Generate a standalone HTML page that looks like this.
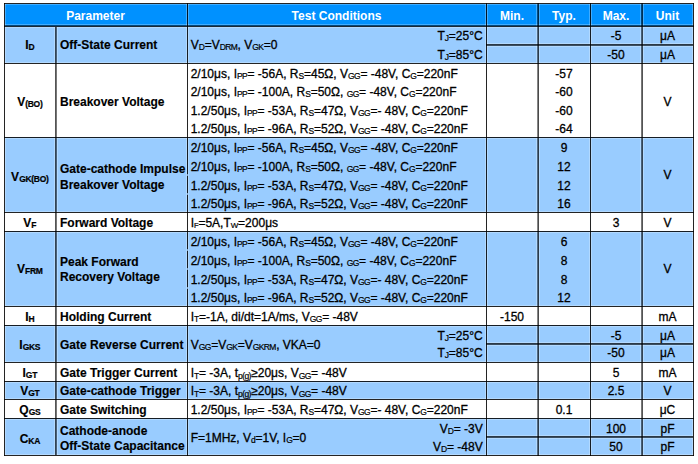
<!DOCTYPE html>
<html><head><meta charset="utf-8"><style>
html,body{margin:0;padding:0;}
body{width:698px;height:464px;background:#fff;position:relative;overflow:hidden;font-family:"Liberation Sans",sans-serif;}
body>div{position:absolute;}
.t{line-height:14px;white-space:nowrap;-webkit-text-stroke:0.3px currentColor;}
sub{vertical-align:baseline;position:relative;top:1px;line-height:0;letter-spacing:-0.6px;padding-right:0.4px;-webkit-text-stroke:0.2px currentColor;}
</style></head><body>
<div style="left:5px;top:4px;width:688px;height:22px;background:#0091ff"></div><div style="left:5px;top:26px;width:688px;height:37px;background:#99ccff"></div><div style="left:5px;top:63px;width:688px;height:74px;background:#fff"></div><div style="left:5px;top:137px;width:688px;height:75px;background:#99ccff"></div><div style="left:5px;top:212px;width:688px;height:19px;background:#fff"></div><div style="left:5px;top:231px;width:688px;height:75px;background:#99ccff"></div><div style="left:5px;top:306px;width:688px;height:19px;background:#fff"></div><div style="left:5px;top:325px;width:688px;height:37px;background:#99ccff"></div><div style="left:5px;top:362px;width:688px;height:19px;background:#fff"></div><div style="left:5px;top:381px;width:688px;height:18px;background:#99ccff"></div><div style="left:5px;top:399px;width:688px;height:19px;background:#fff"></div><div style="left:5px;top:418px;width:688px;height:37px;background:#99ccff"></div><div style="left:5px;top:62px;width:688px;height:1px;background:rgba(255,255,255,0.25)"></div><div style="left:5px;top:64px;width:688px;height:1px;background:rgba(255,255,255,0.25)"></div><div style="left:5px;top:136px;width:688px;height:1px;background:rgba(255,255,255,0.25)"></div><div style="left:5px;top:138px;width:688px;height:1px;background:rgba(255,255,255,0.25)"></div><div style="left:5px;top:211px;width:688px;height:1px;background:rgba(255,255,255,0.25)"></div><div style="left:5px;top:213px;width:688px;height:1px;background:rgba(255,255,255,0.25)"></div><div style="left:5px;top:230px;width:688px;height:1px;background:rgba(255,255,255,0.25)"></div><div style="left:5px;top:232px;width:688px;height:1px;background:rgba(255,255,255,0.25)"></div><div style="left:5px;top:305px;width:688px;height:1px;background:rgba(255,255,255,0.25)"></div><div style="left:5px;top:307px;width:688px;height:1px;background:rgba(255,255,255,0.25)"></div><div style="left:5px;top:324px;width:688px;height:1px;background:rgba(255,255,255,0.25)"></div><div style="left:5px;top:326px;width:688px;height:1px;background:rgba(255,255,255,0.25)"></div><div style="left:5px;top:361px;width:688px;height:1px;background:rgba(255,255,255,0.25)"></div><div style="left:5px;top:363px;width:688px;height:1px;background:rgba(255,255,255,0.25)"></div><div style="left:5px;top:380px;width:688px;height:1px;background:rgba(255,255,255,0.25)"></div><div style="left:5px;top:382px;width:688px;height:1px;background:rgba(255,255,255,0.25)"></div><div style="left:5px;top:398px;width:688px;height:1px;background:rgba(255,255,255,0.25)"></div><div style="left:5px;top:400px;width:688px;height:1px;background:rgba(255,255,255,0.25)"></div><div style="left:5px;top:417px;width:688px;height:1px;background:rgba(255,255,255,0.25)"></div><div style="left:5px;top:419px;width:688px;height:1px;background:rgba(255,255,255,0.25)"></div><div style="left:5px;top:24px;width:688px;height:1px;background:rgba(255,255,255,0.25)"></div><div style="left:5px;top:27px;width:688px;height:1px;background:rgba(255,255,255,0.25)"></div><div style="left:5px;top:454px;width:688px;height:1px;background:rgba(255,255,255,0.25)"></div><div style="left:5px;top:4px;width:688px;height:1px;background:rgba(255,255,255,0.25)"></div><div style="left:487px;top:43px;width:206px;height:1px;background:rgba(255,255,255,0.25)"></div><div style="left:487px;top:46px;width:206px;height:1px;background:rgba(255,255,255,0.25)"></div><div style="left:487px;top:342px;width:206px;height:1px;background:rgba(255,255,255,0.25)"></div><div style="left:487px;top:345px;width:206px;height:1px;background:rgba(255,255,255,0.25)"></div><div style="left:487px;top:435px;width:206px;height:1px;background:rgba(255,255,255,0.25)"></div><div style="left:487px;top:438px;width:206px;height:1px;background:rgba(255,255,255,0.25)"></div><div style="left:186px;top:4px;width:1px;height:451px;background:rgba(255,255,255,0.25)"></div><div style="left:188px;top:4px;width:1px;height:451px;background:rgba(255,255,255,0.25)"></div><div style="left:485px;top:4px;width:1px;height:451px;background:rgba(255,255,255,0.25)"></div><div style="left:487px;top:4px;width:1px;height:451px;background:rgba(255,255,255,0.25)"></div><div style="left:589px;top:4px;width:1px;height:451px;background:rgba(255,255,255,0.25)"></div><div style="left:591px;top:4px;width:1px;height:451px;background:rgba(255,255,255,0.25)"></div><div style="left:54px;top:27px;width:1px;height:428px;background:rgba(255,255,255,0.25)"></div><div style="left:57px;top:27px;width:1px;height:428px;background:rgba(255,255,255,0.25)"></div><div style="left:536px;top:4px;width:1px;height:451px;background:rgba(255,255,255,0.25)"></div><div style="left:539px;top:4px;width:1px;height:451px;background:rgba(255,255,255,0.25)"></div><div style="left:640px;top:4px;width:1px;height:451px;background:rgba(255,255,255,0.25)"></div><div style="left:643px;top:4px;width:1px;height:451px;background:rgba(255,255,255,0.25)"></div><div style="left:5px;top:4px;width:1px;height:451px;background:rgba(255,255,255,0.25)"></div><div style="left:692px;top:4px;width:1px;height:451px;background:rgba(255,255,255,0.25)"></div><div style="left:4px;top:3px;width:690px;height:1px;background:rgba(0,0,0,0.86)"></div><div style="left:4px;top:25px;width:690px;height:1px;background:rgba(0,0,0,0.5)"></div><div style="left:4px;top:26px;width:690px;height:1px;background:rgba(0,0,0,0.8)"></div><div style="left:4px;top:63px;width:690px;height:1px;background:rgba(0,0,0,0.86)"></div><div style="left:4px;top:137px;width:690px;height:1px;background:rgba(0,0,0,0.86)"></div><div style="left:4px;top:212px;width:690px;height:1px;background:rgba(0,0,0,0.86)"></div><div style="left:4px;top:231px;width:690px;height:1px;background:rgba(0,0,0,0.86)"></div><div style="left:4px;top:306px;width:690px;height:1px;background:rgba(0,0,0,0.86)"></div><div style="left:4px;top:325px;width:690px;height:1px;background:rgba(0,0,0,0.86)"></div><div style="left:4px;top:362px;width:690px;height:1px;background:rgba(0,0,0,0.86)"></div><div style="left:4px;top:381px;width:690px;height:1px;background:rgba(0,0,0,0.86)"></div><div style="left:4px;top:399px;width:690px;height:1px;background:rgba(0,0,0,0.86)"></div><div style="left:4px;top:418px;width:690px;height:1px;background:rgba(0,0,0,0.86)"></div><div style="left:4px;top:455px;width:690px;height:1px;background:rgba(0,0,0,0.86)"></div><div style="left:486px;top:44px;width:207px;height:1px;background:rgba(0,0,0,0.72)"></div><div style="left:486px;top:45px;width:207px;height:1px;background:rgba(0,0,0,0.62)"></div><div style="left:486px;top:343px;width:207px;height:1px;background:rgba(0,0,0,0.72)"></div><div style="left:486px;top:344px;width:207px;height:1px;background:rgba(0,0,0,0.62)"></div><div style="left:486px;top:436px;width:207px;height:1px;background:rgba(0,0,0,0.72)"></div><div style="left:486px;top:437px;width:207px;height:1px;background:rgba(0,0,0,0.62)"></div><div style="left:4px;top:3px;width:1px;height:453px;background:rgba(0,0,0,0.86)"></div><div style="left:693px;top:3px;width:1px;height:453px;background:rgba(0,0,0,0.86)"></div><div style="left:187px;top:3px;width:1px;height:453px;background:rgba(0,0,0,0.86)"></div><div style="left:486px;top:3px;width:1px;height:453px;background:rgba(0,0,0,0.86)"></div><div style="left:590px;top:3px;width:1px;height:453px;background:rgba(0,0,0,0.86)"></div><div style="left:55px;top:27px;width:1px;height:428px;background:rgba(0,0,0,0.67)"></div><div style="left:56px;top:27px;width:1px;height:428px;background:rgba(0,0,0,0.53)"></div><div style="left:537px;top:3px;width:1px;height:453px;background:rgba(0,0,0,0.47)"></div><div style="left:538px;top:3px;width:1px;height:453px;background:rgba(0,0,0,0.71)"></div><div style="left:641px;top:3px;width:1px;height:453px;background:rgba(0,0,0,0.53)"></div><div style="left:642px;top:3px;width:1px;height:453px;background:rgba(0,0,0,0.67)"></div><div style="left:187px;top:174px;width:1px;height:2px;background:rgba(153,204,255,0.75)"></div><div style="left:187px;top:193px;width:1px;height:2px;background:rgba(153,204,255,0.75)"></div><div style="left:187px;top:249px;width:1px;height:2px;background:rgba(153,204,255,0.75)"></div><div style="left:187px;top:268px;width:1px;height:2px;background:rgba(153,204,255,0.75)"></div><div style="left:187px;top:287px;width:1px;height:2px;background:rgba(153,204,255,0.75)"></div>
<div class="t" style="left:4px;width:183px;top:9.04px;text-align:center;font-size:12px;color:#fff;font-weight:bold;-webkit-text-stroke:0px currentColor;">Parameter</div><div class="t" style="left:187px;width:299px;top:9.04px;text-align:center;font-size:12px;color:#fff;font-weight:bold;-webkit-text-stroke:0px currentColor;">Test Conditions</div><div class="t" style="left:486px;width:52px;top:9.04px;text-align:center;font-size:12px;color:#fff;font-weight:bold;-webkit-text-stroke:0px currentColor;">Min.</div><div class="t" style="left:538px;width:52px;top:9.04px;text-align:center;font-size:12px;color:#fff;font-weight:bold;-webkit-text-stroke:0px currentColor;">Typ.</div><div class="t" style="left:590px;width:52px;top:9.04px;text-align:center;font-size:12px;color:#fff;font-weight:bold;-webkit-text-stroke:0px currentColor;">Max.</div><div class="t" style="left:642px;width:51px;top:9.04px;text-align:center;font-size:12px;color:#fff;font-weight:bold;-webkit-text-stroke:0px currentColor;">Unit</div><div class="t" style="left:4px;width:52px;top:38.44px;text-align:center;font-size:12px;color:#000;font-weight:bold;-webkit-text-stroke:0.15px currentColor;">I<sub style="font-size:8.5px;top:1px;letter-spacing:-0.3px">D</sub></div><div class="t" style="left:60px;width:127px;top:38.44px;text-align:left;font-size:12px;color:#000;font-weight:bold;-webkit-text-stroke:0.15px currentColor;">Off-State Current</div><div class="t" style="left:190.7px;width:295.3px;top:38.24px;text-align:left;font-size:12px;color:#000;">V<sub style="font-size:8.5px">D</sub>=V<sub style="font-size:8.5px">DRM</sub>, V<sub style="font-size:8.5px">GK</sub>=0</div><div class="t" style="left:187px;width:295.7px;top:29.44px;text-align:right;font-size:12px;color:#000;">T<sub style="font-size:8.5px">J</sub>=25°C</div><div class="t" style="left:187px;width:295.7px;top:47.94px;text-align:right;font-size:12px;color:#000;">T<sub style="font-size:8.5px">J</sub>=85°C</div><div class="t" style="left:590px;width:52px;top:29.44px;text-align:center;font-size:12px;color:#000;">-5</div><div class="t" style="left:590px;width:52px;top:47.94px;text-align:center;font-size:12px;color:#000;">-50</div><div class="t" style="left:642px;width:51px;top:29.44px;text-align:center;font-size:12px;color:#000;">μA</div><div class="t" style="left:642px;width:51px;top:47.94px;text-align:center;font-size:12px;color:#000;">μA</div><div class="t" style="left:4px;width:52px;top:94.74px;text-align:center;font-size:12px;color:#000;font-weight:bold;-webkit-text-stroke:0.15px currentColor;">V<sub style="font-size:8.5px;top:1px;letter-spacing:-0.3px">(BO)</sub></div><div class="t" style="left:60px;width:127px;top:94.74px;text-align:left;font-size:12px;color:#000;font-weight:bold;-webkit-text-stroke:0.15px currentColor;">Breakover Voltage</div><div class="t" style="left:190.7px;width:295.3px;top:67.04px;text-align:left;font-size:12px;color:#000;">2/10μs, I<sub style="font-size:8.5px">PP</sub>= -56A, R<sub style="font-size:8.5px">S</sub>=45Ω, V<sub style="font-size:8.5px">GG</sub>= -48V, C<sub style="font-size:8.5px">G</sub>=220nF</div><div class="t" style="left:190.7px;width:295.3px;top:84.64px;text-align:left;font-size:12px;color:#000;">2/10μs, I<sub style="font-size:8.5px">PP</sub>= -100A, R<sub style="font-size:8.5px">S</sub>=50Ω, <sub style="font-size:8.5px">GG</sub>= -48V, C<sub style="font-size:8.5px">G</sub>=220nF</div><div class="t" style="left:190.7px;width:295.3px;top:103.74px;text-align:left;font-size:12px;color:#000;">1.2/50μs, I<sub style="font-size:8.5px">PP</sub>= -53A, R<sub style="font-size:8.5px">S</sub>=47Ω, V<sub style="font-size:8.5px">GG</sub>=- 48V, C<sub style="font-size:8.5px">G</sub>=220nF</div><div class="t" style="left:190.7px;width:295.3px;top:122.04px;text-align:left;font-size:12px;color:#000;">1.2/50μs, I<sub style="font-size:8.5px">PP</sub>= -96A, R<sub style="font-size:8.5px">S</sub>=52Ω, V<sub style="font-size:8.5px">GG</sub>= -48V, C<sub style="font-size:8.5px">G</sub>=220nF</div><div class="t" style="left:538px;width:52px;top:67.04px;text-align:center;font-size:12px;color:#000;">-57</div><div class="t" style="left:538px;width:52px;top:84.64px;text-align:center;font-size:12px;color:#000;">-60</div><div class="t" style="left:538px;width:52px;top:103.74px;text-align:center;font-size:12px;color:#000;">-60</div><div class="t" style="left:538px;width:52px;top:122.04px;text-align:center;font-size:12px;color:#000;">-64</div><div class="t" style="left:642px;width:51px;top:94.54px;text-align:center;font-size:12px;color:#000;">V</div><div class="t" style="left:4px;width:52px;top:169.94px;text-align:center;font-size:12px;color:#000;font-weight:bold;-webkit-text-stroke:0.15px currentColor;">V<sub style="font-size:8.5px;top:1px;letter-spacing:-0.3px">GK(BO)</sub></div><div class="t" style="left:60px;width:127px;top:161.94px;text-align:left;font-size:12px;color:#000;font-weight:bold;-webkit-text-stroke:0.15px currentColor;">Gate-cathode Impulse</div><div class="t" style="left:60px;width:127px;top:177.94px;text-align:left;font-size:12px;color:#000;font-weight:bold;-webkit-text-stroke:0.15px currentColor;">Breakover Voltage</div><div class="t" style="left:190.7px;width:295.3px;top:140.94px;text-align:left;font-size:12px;color:#000;">2/10μs, I<sub style="font-size:8.5px">PP</sub>= -56A, R<sub style="font-size:8.5px">S</sub>=45Ω, V<sub style="font-size:8.5px">GG</sub>= -48V, C<sub style="font-size:8.5px">G</sub>=220nF</div><div class="t" style="left:190.7px;width:295.3px;top:160.44px;text-align:left;font-size:12px;color:#000;">2/10μs, I<sub style="font-size:8.5px">PP</sub>= -100A, R<sub style="font-size:8.5px">S</sub>=50Ω, <sub style="font-size:8.5px">GG</sub>= -48V, C<sub style="font-size:8.5px">G</sub>=220nF</div><div class="t" style="left:190.7px;width:295.3px;top:178.94px;text-align:left;font-size:12px;color:#000;">1.2/50μs, I<sub style="font-size:8.5px">PP</sub>= -53A, R<sub style="font-size:8.5px">S</sub>=47Ω, V<sub style="font-size:8.5px">GG</sub>= -48V, C<sub style="font-size:8.5px">G</sub>=220nF</div><div class="t" style="left:190.7px;width:295.3px;top:196.84px;text-align:left;font-size:12px;color:#000;">1.2/50μs, I<sub style="font-size:8.5px">PP</sub>= -96A, R<sub style="font-size:8.5px">S</sub>=52Ω, V<sub style="font-size:8.5px">GG</sub>= -48V, C<sub style="font-size:8.5px">G</sub>=220nF</div><div class="t" style="left:538px;width:52px;top:140.94px;text-align:center;font-size:12px;color:#000;">9</div><div class="t" style="left:538px;width:52px;top:160.44px;text-align:center;font-size:12px;color:#000;">12</div><div class="t" style="left:538px;width:52px;top:178.94px;text-align:center;font-size:12px;color:#000;">12</div><div class="t" style="left:538px;width:52px;top:196.84px;text-align:center;font-size:12px;color:#000;">16</div><div class="t" style="left:642px;width:51px;top:168.24px;text-align:center;font-size:12px;color:#000;">V</div><div class="t" style="left:4px;width:52px;top:216.34px;text-align:center;font-size:12px;color:#000;font-weight:bold;-webkit-text-stroke:0.15px currentColor;">V<sub style="font-size:8.5px;top:1px;letter-spacing:-0.3px">F</sub></div><div class="t" style="left:60px;width:127px;top:216.34px;text-align:left;font-size:12px;color:#000;font-weight:bold;-webkit-text-stroke:0.15px currentColor;">Forward Voltage</div><div class="t" style="left:190.7px;width:295.3px;top:216.14px;text-align:left;font-size:12px;color:#000;">I<sub style="font-size:7.5px">F</sub>=5A,T<sub style="font-size:8px">W</sub>=200μs</div><div class="t" style="left:590px;width:52px;top:216.14px;text-align:center;font-size:12px;color:#000;">3</div><div class="t" style="left:642px;width:51px;top:216.14px;text-align:center;font-size:12px;color:#000;">V</div><div class="t" style="left:4px;width:52px;top:262.44px;text-align:center;font-size:12px;color:#000;font-weight:bold;-webkit-text-stroke:0.15px currentColor;">V<sub style="font-size:8.5px;top:1px;letter-spacing:-0.3px">FRM</sub></div><div class="t" style="left:60px;width:127px;top:254.94px;text-align:left;font-size:12px;color:#000;font-weight:bold;-webkit-text-stroke:0.15px currentColor;">Peak Forward</div><div class="t" style="left:60px;width:127px;top:270.44px;text-align:left;font-size:12px;color:#000;font-weight:bold;-webkit-text-stroke:0.15px currentColor;">Recovery Voltage</div><div class="t" style="left:190.7px;width:295.3px;top:234.74px;text-align:left;font-size:12px;color:#000;">2/10μs, I<sub style="font-size:8.5px">PP</sub>= -56A, R<sub style="font-size:8.5px">S</sub>=45Ω, V<sub style="font-size:8.5px">GG</sub>= -48V, C<sub style="font-size:8.5px">G</sub>=220nF</div><div class="t" style="left:190.7px;width:295.3px;top:254.04px;text-align:left;font-size:12px;color:#000;">2/10μs, I<sub style="font-size:8.5px">PP</sub>= -100A, R<sub style="font-size:8.5px">S</sub>=50Ω, <sub style="font-size:8.5px">GG</sub>= -48V, C<sub style="font-size:8.5px">G</sub>=220nF</div><div class="t" style="left:190.7px;width:295.3px;top:272.54px;text-align:left;font-size:12px;color:#000;">1.2/50μs, I<sub style="font-size:8.5px">PP</sub>= -53A, R<sub style="font-size:8.5px">S</sub>=47Ω, V<sub style="font-size:8.5px">GG</sub>=- 48V, C<sub style="font-size:8.5px">G</sub>=220nF</div><div class="t" style="left:190.7px;width:295.3px;top:290.64px;text-align:left;font-size:12px;color:#000;">1.2/50μs, I<sub style="font-size:8.5px">PP</sub>= -96A, R<sub style="font-size:8.5px">S</sub>=52Ω, V<sub style="font-size:8.5px">GG</sub>= -48V, C<sub style="font-size:8.5px">G</sub>=220nF</div><div class="t" style="left:538px;width:52px;top:234.74px;text-align:center;font-size:12px;color:#000;">6</div><div class="t" style="left:538px;width:52px;top:254.04px;text-align:center;font-size:12px;color:#000;">8</div><div class="t" style="left:538px;width:52px;top:272.54px;text-align:center;font-size:12px;color:#000;">8</div><div class="t" style="left:538px;width:52px;top:290.64px;text-align:center;font-size:12px;color:#000;">12</div><div class="t" style="left:642px;width:51px;top:262.24px;text-align:center;font-size:12px;color:#000;">V</div><div class="t" style="left:4px;width:52px;top:309.74px;text-align:center;font-size:12px;color:#000;font-weight:bold;-webkit-text-stroke:0.15px currentColor;">I<sub style="font-size:8.5px;top:1px;letter-spacing:-0.3px">H</sub></div><div class="t" style="left:60px;width:127px;top:309.74px;text-align:left;font-size:12px;color:#000;font-weight:bold;-webkit-text-stroke:0.15px currentColor;">Holding Current</div><div class="t" style="left:190.7px;width:295.3px;top:309.54px;text-align:left;font-size:12px;color:#000;">I<sub style="font-size:8.5px">T</sub>=-1A, di/dt=1A/ms, V<sub style="font-size:8.5px">GG</sub>= -48V</div><div class="t" style="left:486px;width:52px;top:309.54px;text-align:center;font-size:12px;color:#000;">-150</div><div class="t" style="left:642px;width:51px;top:309.54px;text-align:center;font-size:12px;color:#000;">mA</div><div class="t" style="left:4px;width:52px;top:337.84px;text-align:center;font-size:12px;color:#000;font-weight:bold;-webkit-text-stroke:0.15px currentColor;">I<sub style="font-size:8.5px;top:1px;letter-spacing:-0.3px">GKS</sub></div><div class="t" style="left:60px;width:127px;top:337.84px;text-align:left;font-size:12px;color:#000;font-weight:bold;-webkit-text-stroke:0.15px currentColor;">Gate Reverse Current</div><div class="t" style="left:190.7px;width:295.3px;top:337.64px;text-align:left;font-size:12px;color:#000;">V<sub style="font-size:8.5px">GG</sub>=V<sub style="font-size:8.5px">GK</sub>=V<sub style="font-size:8.5px">GKRM</sub>, VKA=0</div><div class="t" style="left:187px;width:295.7px;top:328.74px;text-align:right;font-size:12px;color:#000;">T<sub style="font-size:8.5px">J</sub>=25°C</div><div class="t" style="left:187px;width:295.7px;top:346.44px;text-align:right;font-size:12px;color:#000;">T<sub style="font-size:8.5px">J</sub>=85°C</div><div class="t" style="left:590px;width:52px;top:328.74px;text-align:center;font-size:12px;color:#000;">-5</div><div class="t" style="left:590px;width:52px;top:346.44px;text-align:center;font-size:12px;color:#000;">-50</div><div class="t" style="left:642px;width:51px;top:328.74px;text-align:center;font-size:12px;color:#000;">μA</div><div class="t" style="left:642px;width:51px;top:346.44px;text-align:center;font-size:12px;color:#000;">μA</div><div class="t" style="left:4px;width:52px;top:366.04px;text-align:center;font-size:12px;color:#000;font-weight:bold;-webkit-text-stroke:0.15px currentColor;">I<sub style="font-size:8.5px;top:1px;letter-spacing:-0.3px">GT</sub></div><div class="t" style="left:60px;width:127px;top:366.04px;text-align:left;font-size:12px;color:#000;font-weight:bold;-webkit-text-stroke:0.15px currentColor;">Gate Trigger Current</div><div class="t" style="left:190.7px;width:295.3px;top:365.84px;text-align:left;font-size:12px;color:#000;">I<sub style="font-size:8.5px;top:2px">T</sub>= -3A, t<sub style="font-size:8.5px;top:2px">p(g)</sub>≥20μs, V<sub style="font-size:8.5px;top:2px">GG</sub>= -48V</div><div class="t" style="left:590px;width:52px;top:365.84px;text-align:center;font-size:12px;color:#000;">5</div><div class="t" style="left:642px;width:51px;top:365.84px;text-align:center;font-size:12px;color:#000;">mA</div><div class="t" style="left:4px;width:52px;top:384.34px;text-align:center;font-size:12px;color:#000;font-weight:bold;-webkit-text-stroke:0.15px currentColor;">V<sub style="font-size:8.5px;top:1px;letter-spacing:-0.3px">GT</sub></div><div class="t" style="left:60px;width:127px;top:384.34px;text-align:left;font-size:12px;color:#000;font-weight:bold;-webkit-text-stroke:0.15px currentColor;">Gate-cathode Trigger</div><div class="t" style="left:190.7px;width:295.3px;top:384.14px;text-align:left;font-size:12px;color:#000;">I<sub style="font-size:8.5px;top:2px">T</sub>= -3A, t<sub style="font-size:8.5px;top:2px">p(g)</sub>≥20μs, V<sub style="font-size:8.5px;top:2px">GG</sub>= -48V</div><div class="t" style="left:590px;width:52px;top:384.14px;text-align:center;font-size:12px;color:#000;">2.5</div><div class="t" style="left:642px;width:51px;top:384.14px;text-align:center;font-size:12px;color:#000;">V</div><div class="t" style="left:4px;width:52px;top:403.14px;text-align:center;font-size:12px;color:#000;font-weight:bold;-webkit-text-stroke:0.15px currentColor;">Q<sub style="font-size:8.5px;top:1px;letter-spacing:-0.3px">GS</sub></div><div class="t" style="left:60px;width:127px;top:403.14px;text-align:left;font-size:12px;color:#000;font-weight:bold;-webkit-text-stroke:0.15px currentColor;">Gate Switching</div><div class="t" style="left:190.7px;width:295.3px;top:402.94px;text-align:left;font-size:12px;color:#000;">1.2/50μs, I<sub style="font-size:8.5px">PP</sub>= -53A, R<sub style="font-size:8.5px">S</sub>=47Ω, V<sub style="font-size:8.5px">GG</sub>=- 48V, C<sub style="font-size:8.5px">G</sub>=220nF</div><div class="t" style="left:538px;width:52px;top:402.94px;text-align:center;font-size:12px;color:#000;">0.1</div><div class="t" style="left:642px;width:51px;top:402.94px;text-align:center;font-size:12px;color:#000;">μC</div><div class="t" style="left:4px;width:52px;top:431.54px;text-align:center;font-size:12px;color:#000;font-weight:bold;-webkit-text-stroke:0.15px currentColor;">C<sub style="font-size:8.5px;top:1px;letter-spacing:-0.3px">KA</sub></div><div class="t" style="left:60px;width:127px;top:423.64px;text-align:left;font-size:12px;color:#000;font-weight:bold;-webkit-text-stroke:0.15px currentColor;">Cathode-anode</div><div class="t" style="left:60px;width:127px;top:438.94px;text-align:left;font-size:12px;color:#000;font-weight:bold;-webkit-text-stroke:0.15px currentColor;">Off-State Capacitance</div><div class="t" style="left:190.7px;width:295.3px;top:431.34px;text-align:left;font-size:12px;color:#000;">F=1MHz, V<sub style="font-size:8.5px">d</sub>=1V, I<sub style="font-size:8.5px">G</sub>=0</div><div class="t" style="left:187px;width:295.7px;top:421.54px;text-align:right;font-size:12px;color:#000;">V<sub style="font-size:8.5px">D</sub>= -3V</div><div class="t" style="left:187px;width:295.7px;top:439.84px;text-align:right;font-size:12px;color:#000;">V<sub style="font-size:8.5px">D</sub>= -48V</div><div class="t" style="left:590px;width:52px;top:421.54px;text-align:center;font-size:12px;color:#000;">100</div><div class="t" style="left:590px;width:52px;top:439.84px;text-align:center;font-size:12px;color:#000;">50</div><div class="t" style="left:642px;width:51px;top:421.54px;text-align:center;font-size:12px;color:#000;">pF</div><div class="t" style="left:642px;width:51px;top:439.84px;text-align:center;font-size:12px;color:#000;">pF</div>
</body></html>
